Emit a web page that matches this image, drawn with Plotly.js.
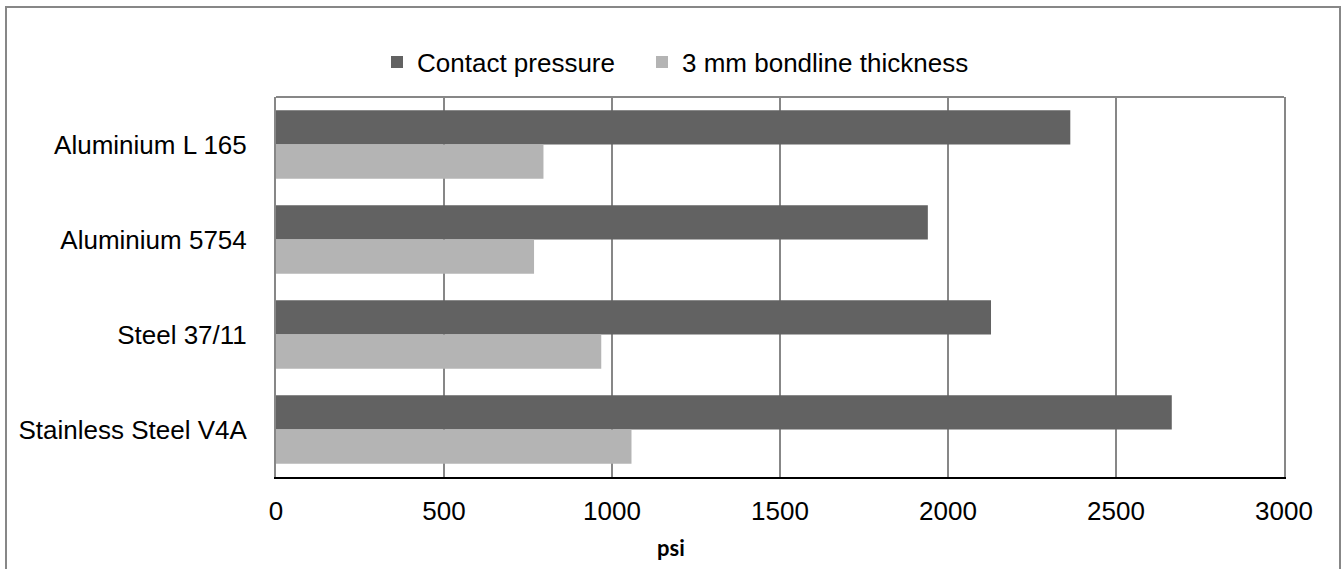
<!DOCTYPE html>
<html>
<head>
<meta charset="utf-8">
<script src="https://cdn.plot.ly/plotly-3.0.1.min.js"></script>
<style>html,body{margin:0;padding:0;background:#fff;}#chart{width:1342px;height:569px;}</style>
</head>
<body>
<div id="chart"></div>
<script>
const categories = ["Aluminium L 165", "Aluminium 5754", "Steel 37/11", "Stainless Steel V4A"];
const contactPressure = [2364, 1940, 2128, 2666];
const bondline3mm = [796, 768, 968, 1058];
const xTicks = [0, 500, 1000, 1500, 2000, 2500, 3000];
const seriesNames = ["Contact pressure", "3 mm bondline thickness"];

const W = 1342, H = 569;
const L = 276, R = 58, T = 97, B = 92;
const pw = W - L - R, ph = H - T - B;
const px = x => (x - L) / pw;
const py = y => (H - B - y) / ph;

const font = "Liberation Sans, Arial, sans-serif";

const traces = [
  {type: "bar", orientation: "h", name: seriesNames[0], y: categories, x: contactPressure,
   marker: {color: "#626262"}, legend: "legend"},
  {type: "bar", orientation: "h", name: seriesNames[1], y: categories, x: bondline3mm,
   marker: {color: "#b4b4b4"}, legend: "legend2"}
];

const legendBase = {orientation: "h", y: py(62), yanchor: "middle", xanchor: "left",
  font: {family: font, size: 26, color: "#000"}, itemclick: false, bgcolor: "rgba(0,0,0,0)"};

const layout = {
  width: W, height: H,
  margin: {l: L, r: R, t: T, b: B},
  paper_bgcolor: "#fff", plot_bgcolor: "#fff",
  barmode: "group", bargap: 0.28, bargroupgap: 0,
  font: {family: font, size: 26, color: "#000"},
  showlegend: true,
  legend: Object.assign({}, legendBase, {x: px(377)}),
  legend2: Object.assign({}, legendBase, {x: px(642)}),
  xaxis: {range: [0, 3000], tickvals: xTicks, ticktext: xTicks.map(String),
          showgrid: true, gridcolor: "#878787", gridwidth: 2,
          zeroline: false, showline: true, linecolor: "#000", linewidth: 2,
          ticks: "", ticklabelstandoff: 10, tickfont: {family: font, size: 26, color: "#000"},
          fixedrange: true},
  yaxis: {autorange: "reversed", type: "category", showgrid: false, zeroline: false,
          showline: true, linecolor: "#878787", linewidth: 2, mirror: true,
          ticks: "", ticklabelstandoff: 22, tickfont: {family: font, size: 26, color: "#000"},
          fixedrange: true},
  shapes: [
    {type: "line", xref: "paper", yref: "paper", x0: 0, x1: 1, y0: 1, y1: 1,
     line: {color: "#878787", width: 2}},
    {type: "rect", xref: "paper", yref: "paper", x0: px(6), x1: px(1340), y0: py(7), y1: py(600),
     line: {color: "#878787", width: 2}, fillcolor: "rgba(0,0,0,0)", layer: "below"}
  ],
  annotations: [
    {text: "<b>psi</b>", xref: "paper", yref: "paper", x: px(671), y: py(547),
     xanchor: "center", yanchor: "middle", showarrow: false,
     font: {family: "Lato, Carlito, sans-serif", size: 22, color: "#000"}}
  ]
};

Plotly.newPlot("chart", traces, layout, {displayModeBar: false, staticPlot: true});
</script>
</body>
</html>
